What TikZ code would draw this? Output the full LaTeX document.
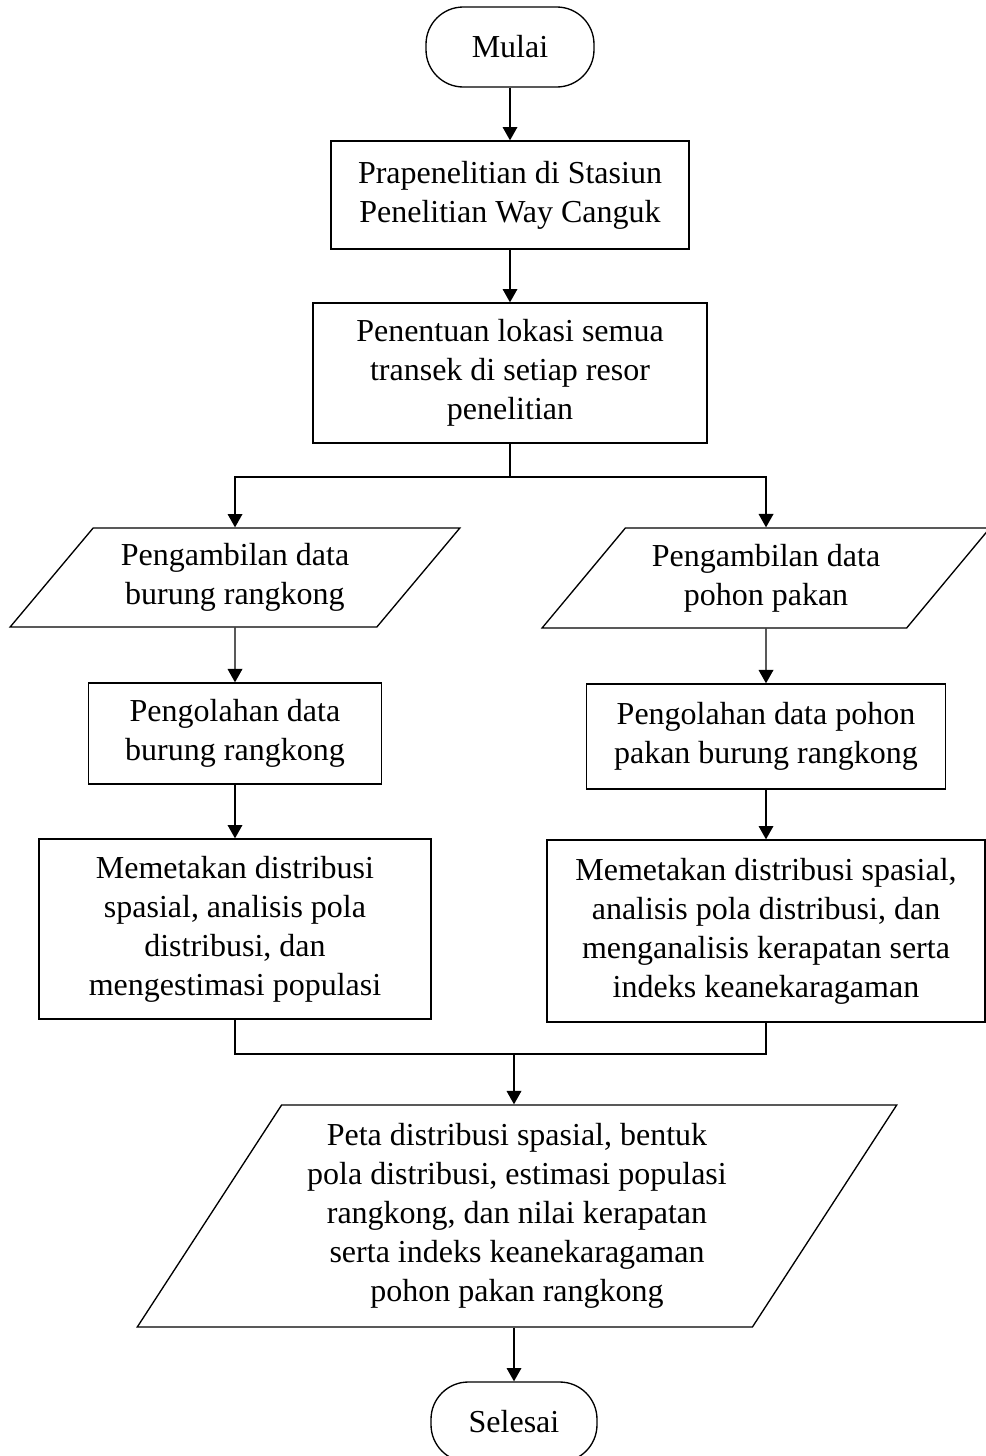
\documentclass[tikz,border=0pt]{standalone}
\usepackage{fontspec}
\setmainfont{Liberation Serif}
\usepackage{tikz}
\usetikzlibrary{arrows.meta, shapes.geometric}

\begin{document}
\begin{tikzpicture}[
    x=0.375pt, y=-0.375pt,
    box/.style={draw, rectangle, align=center, inner sep=2pt,
                font=\fontsize{12}{14.6}\selectfont},
    terminal/.style={box, rounded corners=14pt},
    inout/.style={draw, trapezium, trapezium stretches=true, align=center,
                  inner sep=2pt, font=\fontsize{12}{14.6}\selectfont},
    >={Triangle[length=5pt,width=5.5pt]}, line width=0.5pt
  ]
    \useasboundingbox (0,0) rectangle (985,1456);

    \node[terminal, minimum width=63pt, minimum height=30pt] (mulai) at (510,47)
      {Mulai};
    \node[box, minimum width=134.25pt, minimum height=40.5pt] (prapen) at (510,195)
      {Prapenelitian di Stasiun\\Penelitian Way Canguk};
    \node[box, minimum width=147.75pt, minimum height=52.5pt] (lokasi) at (510,373)
      {Penentuan lokasi semua\\transek di setiap resor\\penelitian};
    \coordinate (split) at (510,477);

    \node[inout, trapezium left angle=48.4, trapezium right angle=131.6,
          minimum width=168.75pt, minimum height=37.1pt] (ambilburung) at (235,577.5)
      {Pengambilan data\\burung rangkong};
    \node[inout, trapezium left angle=48, trapezium right angle=132,
          minimum width=168pt, minimum height=37.5pt] (ambilpohon) at (766,578)
      {Pengambilan data\\pohon pakan};

    \node[box, minimum width=109.9pt, minimum height=37.9pt] (olahburung) at (235,733.5)
      {Pengolahan data\\burung rangkong};
    \node[box, minimum width=134.6pt, minimum height=39.4pt] (olahpohon) at (766,736.5)
      {Pengolahan data pohon\\pakan burung rangkong};

    \node[box, minimum width=147pt, minimum height=67.5pt] (petaburung) at (235,929)
      {Memetakan distribusi\\spasial, analisis pola\\distribusi, dan\\mengestimasi populasi};
    \node[box, minimum width=164.25pt, minimum height=68.25pt] (petapohon) at (766,931)
      {Memetakan distribusi spasial,\\analisis pola distribusi, dan\\menganalisis kerapatan serta\\indeks keanekaragaman};
    \coordinate (join) at (514,1054);

    \node[inout, trapezium left angle=56, trapezium right angle=124,
          minimum width=285.75pt, minimum height=83.25pt] (hasil) at (517,1216)
      {Peta distribusi spasial, bentuk\\pola distribusi, estimasi populasi\\rangkong, dan nilai kerapatan\\serta indeks keanekaragaman\\pohon pakan rangkong};
    \node[terminal, minimum width=62.25pt, minimum height=30pt] (selesai) at (514,1422)
      {Selesai};

    \draw[->] (mulai) -- (prapen);
    \draw[->] (prapen) -- (lokasi);
    \draw (lokasi) -- (split);
    \draw[->] (split) -| (ambilburung.north);
    \draw[->] (split) -| (ambilpohon.north);
    \draw[->] (ambilburung) -- (olahburung);
    \draw[->] (ambilpohon) -- (olahpohon);
    \draw[->] (olahburung) -- (petaburung);
    \draw[->] (olahpohon) -- (petapohon);
    \draw (petaburung.south) |- (join) -| (petapohon.south);
    \draw[->] (join) -- (join |- hasil.north);
    \draw[->] (hasil.south -| selesai) -- (selesai);
  \end{tikzpicture}
\end{document}
